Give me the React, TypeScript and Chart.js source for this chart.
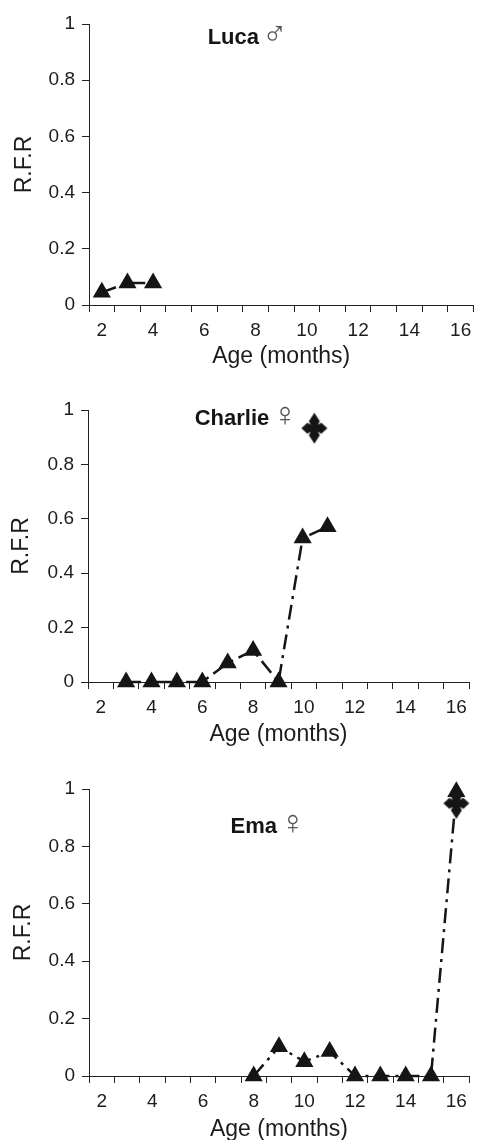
import React, { useEffect, useRef } from "react";
import { Chart, registerables } from "chart.js";

Chart.register(...registerables);

// ---------- data ----------
const monthCategories = [2, 3, 4, 5, 6, 7, 8, 9, 10, 11, 12, 13, 14, 15, 16];
const xTickLabels = ["2", "4", "6", "8", "10", "12", "14", "16"];
const yTickLabels = ["0", "0.2", "0.4", "0.6", "0.8", "1"];

const lucaAges = [2, 3, 4];
const lucaRFR = [0.045, 0.078, 0.078];

const charlieAges = [3, 4, 5, 6, 7, 8, 9, 9.95, 10.93];
const charlieRFR = [0, 0, 0, 0, 0.07, 0.116, 0, 0.529, 0.571];
const charlieCrossAge = [10.41];
const charlieCrossRFR = [0.933];

const emaAges = [8, 9, 10, 11, 12, 13, 14, 15, 16];
const emaRFR = [0, 0.102, 0.05, 0.085, 0, 0, 0, 0, 0.99];
const emaCrossAge = [16];
const emaCrossRFR = [0.95];

const FONT = '"Liberation Sans", Arial, Helvetica, sans-serif';
const INK = "#151515";
const TITLE_SIZE = 23;
const TICK_SIZE = 19;

type Panel = {
  name: string;
  symbol: string;
  ages: number[];
  rfr: number[];
  crossAges: number[];
  crossRfr: number[];
  top: number;
  plot: { l: number; r: number; t: number; b: number };
  yTitleX: number;
  xTitleY: number;
  nameAt: { x: number; y: number };
};

const panels: Panel[] = [
  {
    name: "Luca",
    symbol: "\u2642",
    ages: lucaAges,
    rfr: lucaRFR,
    crossAges: [],
    crossRfr: [],
    top: 0,
    plot: { l: 89, r: 478, t: 24, b: 305 },
    yTitleX: 25,
    xTitleY: 357,
    nameAt: { x: 6.13, y: 0.93 },
  },
  {
    name: "Charlie",
    symbol: "\u2640",
    ages: charlieAges,
    rfr: charlieRFR,
    crossAges: charlieCrossAge,
    crossRfr: charlieCrossRFR,
    top: 380,
    plot: { l: 88, r: 470, t: 30, b: 302 },
    yTitleX: 21.5,
    xTitleY: 355,
    nameAt: { x: 5.7, y: 0.945 },
  },
  {
    name: "Ema",
    symbol: "\u2640",
    ages: emaAges,
    rfr: emaRFR,
    crossAges: emaCrossAge,
    crossRfr: emaCrossRFR,
    top: 760,
    plot: { l: 89, r: 481, t: 29, b: 316 },
    yTitleX: 23.5,
    xTitleY: 370,
    nameAt: { x: 7.09, y: 0.848 },
  },
];

const W = 484;
const H = 380;

function makeCrossMarker(): HTMLCanvasElement {
  const c = document.createElement("canvas");
  c.width = 28;
  c.height = 32;
  const g = c.getContext("2d")!;
  g.translate(14, 16);
  g.fillStyle = INK;
  const pts: [number, number][] = [
    [0, -15.5], [5.5, -7], [3.5, -3.5], [7, -5.5],
    [13, 0], [7, 5.5], [3.5, 3.5], [5.5, 7],
    [0, 15.5], [-5.5, 7], [-3.5, 3.5], [-7, 5.5],
    [-13, 0], [-7, -5.5], [-3.5, -3.5], [-5.5, -7],
  ];
  g.beginPath();
  pts.forEach(([x, y], i) => (i === 0 ? g.moveTo(x, y) : g.lineTo(x, y)));
  g.closePath();
  g.fill();
  return c;
}

function PanelChart({ p }: { p: Panel }) {
  const ref = useRef<HTMLCanvasElement | null>(null);
  useEffect(() => {
    if (!ref.current) return;
    const cross = makeCrossMarker();
    const first = monthCategories[0] - 0.5;
    const last = monthCategories[monthCategories.length - 1] + 0.5;
    const tickValues: number[] = [];
    monthCategories.forEach((m) => {
      tickValues.push(m - 0.5, m);
    });
    tickValues.push(last);
    const halfLine = (TITLE_SIZE * 1.2) / 2;

    const nameLabel = {
      id: "nameLabel",
      afterDraw(chart: any) {
        const ctx = chart.ctx;
        const xs = chart.scales.x;
        const ys = chart.scales.y;
        const x = xs.getPixelForValue(p.nameAt.x);
        const y = ys.getPixelForValue(p.nameAt.y);
        ctx.save();
        ctx.textBaseline = "alphabetic";
        ctx.textAlign = "left";
        ctx.fillStyle = INK;
        ctx.font = `bold 22px ${FONT}`;
        ctx.fillText(p.name, x, y);
        const w = ctx.measureText(p.name).width;
        ctx.font = `200 34px "DejaVu Sans"`;
        ctx.fillStyle = "#555";
        ctx.fillText(p.symbol, x + w + 3, y + 1);
        ctx.restore();
      },
    };

    const datasets: any[] = [
      {
        data: p.ages.map((a, i) => ({ x: a, y: p.rfr[i] })),
        borderColor: INK,
        borderWidth: 2.5,
        borderDash: [15, 6, 3, 6],
        pointStyle: "triangle",
        pointRadius: 10.5,
        pointBackgroundColor: INK,
        pointBorderWidth: 0,
        tension: 0,
        clip: false,
      },
    ];
    if (p.crossAges.length) {
      datasets.push({
        data: p.crossAges.map((a, i) => ({ x: a, y: p.crossRfr[i] })),
        showLine: false,
        pointStyle: cross,
        pointRadius: 14,
        clip: false,
      });
    }

    const chart = new Chart(ref.current, {
      type: "line",
      data: { datasets },
      plugins: [nameLabel],
      options: {
        responsive: false,
        animation: false,
        events: [],
        layout: { padding: { top: p.plot.t, right: W - p.plot.r, left: 0, bottom: 0 } },
        plugins: { legend: { display: false }, tooltip: { enabled: false } },
        scales: {
          x: {
            type: "linear",
            min: first,
            max: last,
            afterFit: (s: any) => {
              s.height = H - p.plot.b;
            },
            afterBuildTicks: (s: any) => {
              s.ticks = tickValues.map((v) => ({ value: v }));
            },
            grid: {
              drawOnChartArea: false,
              drawTicks: true,
              tickLength: 7,
              lineWidth: 1,
              color: (c: any) =>
                c.tick && Number.isInteger(c.tick.value) ? "rgba(0,0,0,0)" : "#222",
            },
            border: { display: true, color: "#222", width: 1 },
            ticks: {
              autoSkip: false,
              maxRotation: 0,
              minRotation: 0,
              padding: 7,
              color: "#1c1c1c",
              font: { family: FONT, size: TICK_SIZE },
              callback: (v: any) => {
                const idx = monthCategories.indexOf(Number(v));
                if (idx < 0) return "";
                const lab = String(v);
                return xTickLabels.includes(lab) ? lab : "";
              },
            },
            title: {
              display: true,
              text: "Age (months)",
              color: "#1c1c1c",
              font: { family: FONT, size: TITLE_SIZE },
              padding: { top: 0, bottom: H - p.xTitleY - halfLine },
            },
          },
          y: {
            type: "linear",
            min: 0,
            max: 1,
            afterFit: (s: any) => {
              s.width = p.plot.l;
            },
            afterBuildTicks: (s: any) => {
              s.ticks = yTickLabels.map((t) => ({ value: Number(t) }));
            },
            grid: {
              drawOnChartArea: false,
              drawTicks: true,
              tickLength: 7,
              color: "#222",
            },
            border: { display: true, color: "#222", width: 1 },
            ticks: {
              padding: 7,
              color: "#1c1c1c",
              font: { family: FONT, size: TICK_SIZE },
              callback: (_v: any, i: number) => yTickLabels[i],
            },
            title: {
              display: true,
              text: "R.F.R",
              color: "#1c1c1c",
              font: { family: FONT, size: TITLE_SIZE },
              padding: { top: p.yTitleX - halfLine, bottom: 0 },
            },
          },
        },
      },
    });
    return () => chart.destroy();
  }, [p]);

  return (
    <canvas
      ref={ref}
      width={W}
      height={H}
      style={{ position: "absolute", left: 0, top: p.top, width: W, height: H }}
    />
  );
}

export default function App() {
  return (
    <div
      style={{
        position: "absolute",
        left: 0,
        top: 0,
        width: W,
        height: 1140,
        background: "#fff",
        overflow: "hidden",
      }}
    >
      {panels.map((p) => (
        <PanelChart key={p.name} p={p} />
      ))}
    </div>
  );
}
